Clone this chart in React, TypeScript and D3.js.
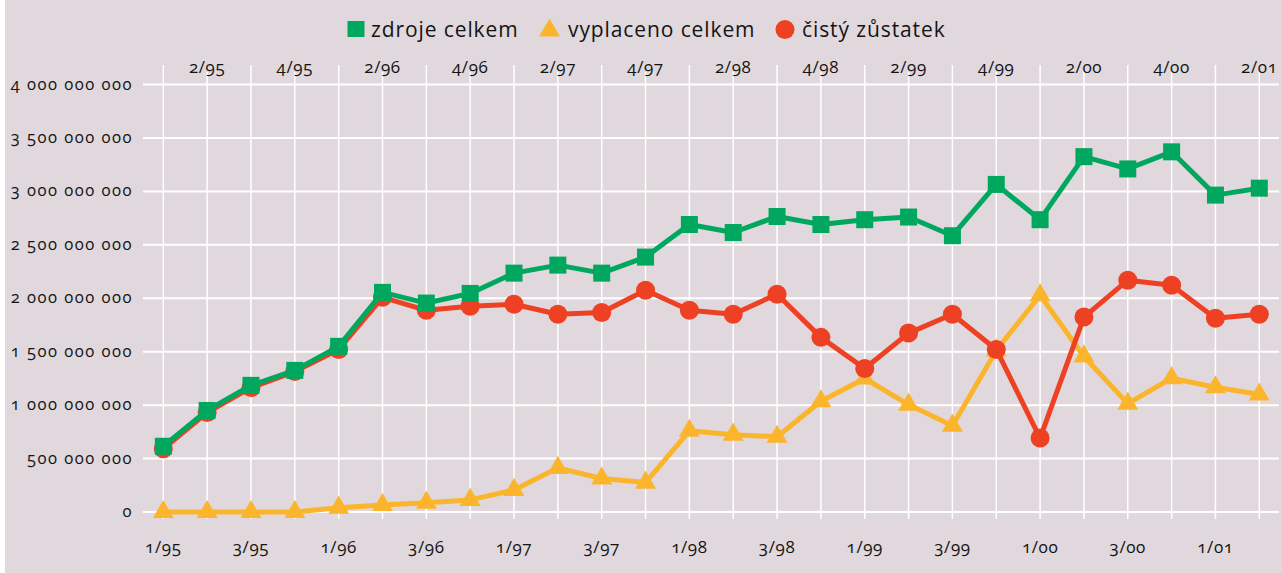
import React from "react";
import * as d3 from "d3";

const quarters = [
  "1/95","2/95","3/95","4/95","1/96","2/96","3/96","4/96","1/97","2/97","3/97","4/97",
  "1/98","2/98","3/98","4/98","1/99","2/99","3/99","4/99","1/00","2/00","3/00","4/00","1/01","2/01",
];
const zdrojeCelkem = [
  615, 950, 1185, 1325, 1550, 2055, 1955, 2045, 2235, 2310, 2235, 2385,
  2690, 2615, 2765, 2690, 2735, 2760, 2585, 3065, 2735, 3325, 3210, 3370, 2965, 3030,
].map((v) => v * 1e6);
const vyplacenoCelkem = [
  0, 0, 0, 0, 40, 65, 87, 113, 206, 413, 313, 275,
  760, 723, 704, 1036, 1249, 1005, 808, 1512, 2028, 1455, 1014, 1252, 1167, 1099,
].map((v) => v * 1e6);
const cistyZustatek = [
  592, 930, 1164, 1314, 1521, 2009, 1887, 1925, 1944, 1850, 1866, 2075,
  1887, 1850, 2038, 1634, 1343, 1674, 1850, 1521, 692, 1824, 2169, 2122, 1812, 1850,
].map((v) => v * 1e6);
const yTicks = [0, 500e6, 1000e6, 1500e6, 2000e6, 2500e6, 3000e6, 3500e6, 4000e6];
const legendLabels = ["zdroje celkem", "vyplaceno celkem", "čistý zůstatek"];

const W = 1282;
const H = 573;
const BG = "#e0d8dc";
const GREEN = "#00a85f";
const YELLOW = "#fbb52c";
const RED = "#ee4023";
const FONT = "'Open Sans', sans-serif";
const TXT = "#141414";

const fmt = (v: number) => d3.format(",")(v).replace(/,/g, " ");

export default function App() {
  const x = d3.scalePoint<string>().domain(quarters).range([163.3, 1259.3]);
  const y = d3.scaleLinear().domain([0, 4e9]).range([512, 84.5]);
  const line = d3
    .line<number>()
    .x((_, i) => x(quarters[i]) as number)
    .y((d) => y(d));

  const tri = (cx: number, cy: number, s = 21) => {
    const h = (s * Math.sqrt(3)) / 2;
    return `M${cx},${cy - (2 * h) / 3}L${cx + s / 2},${cy + h / 3}L${cx - s / 2},${cy + h / 3}Z`;
  };

  const numStyle = { fontVariantNumeric: "oldstyle-nums" as const };

  return (
    <svg
      width={W}
      height={H}
      style={{ position: "absolute", left: 0, top: 0, display: "block" }}
    >
      <rect x={0} y={0} width={W} height={H} fill="#ffffff" />
      <rect x={5} y={0} width={W - 5} height={H} fill={BG} />

      {/* horizontal grid */}
      {yTicks.map((t) => (
        <line key={"h" + t} x1={143} x2={1279} y1={y(t)} y2={y(t)} stroke="#fff" strokeWidth={2} />
      ))}
      {/* vertical grid */}
      {quarters.map((q, i) => (
        <line
          key={"v" + q}
          x1={x(q)}
          x2={x(q)}
          y1={i % 2 === 1 ? 72 : 65}
          y2={519}
          stroke="#fff"
          strokeWidth={1.5}
        />
      ))}

      {/* y labels */}
      {yTicks.map((t) => (
        <text
          key={"yl" + t}
          x={133}
          y={y(t) + 5}
          textAnchor="end"
          fontFamily={FONT}
          fontSize={16.5}
          letterSpacing={1.5}
          fill={TXT}
          style={numStyle}
        >
          {fmt(t)}
        </text>
      ))}
      {/* x labels */}
      {quarters.map((q, i) =>
        i % 2 === 0 ? (
          <text key={"xb" + q} x={x(q)} y={553} textAnchor="middle" fontFamily={FONT} fontSize={17} letterSpacing={0.6} fill={TXT} style={numStyle}>
            {q}
          </text>
        ) : (
          <text key={"xt" + q} x={x(q)} y={73} textAnchor="middle" fontFamily={FONT} fontSize={17} letterSpacing={0.6} fill={TXT} style={numStyle}>
            {q}
          </text>
        )
      )}

      {/* series: vyplaceno (yellow) */}
      <path d={line(vyplacenoCelkem) || ""} fill="none" stroke={YELLOW} strokeWidth={5} strokeLinejoin="round" />
      {vyplacenoCelkem.map((v, i) => (
        <path key={"yt" + i} d={tri(x(quarters[i]) as number, y(v))} fill={YELLOW} />
      ))}
      {/* čistý zůstatek (red) */}
      <path d={line(cistyZustatek) || ""} fill="none" stroke={RED} strokeWidth={5} strokeLinejoin="round" />
      {cistyZustatek.map((v, i) => (
        <circle key={"rc" + i} cx={x(quarters[i]) as number} cy={y(v)} r={9.5} fill={RED} />
      ))}
      {/* zdroje celkem (green) */}
      <path d={line(zdrojeCelkem) || ""} fill="none" stroke={GREEN} strokeWidth={5} strokeLinejoin="round" />
      {zdrojeCelkem.map((v, i) => (
        <rect key={"gs" + i} x={(x(quarters[i]) as number) - 8.5} y={y(v) - 8.5} width={17} height={17} fill={GREEN} />
      ))}

      {/* legend */}
      <rect x={347.5} y={21} width={17} height={16} fill={GREEN} />
      <text x={371} y={37} fontFamily={FONT} fontSize={21} letterSpacing={0.9} fill={TXT}>{legendLabels[0]}</text>
      <path d={tri(549.5, 30.5, 21)} fill={YELLOW} />
      <text x={568} y={37} fontFamily={FONT} fontSize={21} letterSpacing={0.9} fill={TXT}>{legendLabels[1]}</text>
      <circle cx={785} cy={29.5} r={9.5} fill={RED} />
      <text x={802} y={37} fontFamily={FONT} fontSize={21} letterSpacing={0.9} fill={TXT}>{legendLabels[2]}</text>
    </svg>
  );
}
